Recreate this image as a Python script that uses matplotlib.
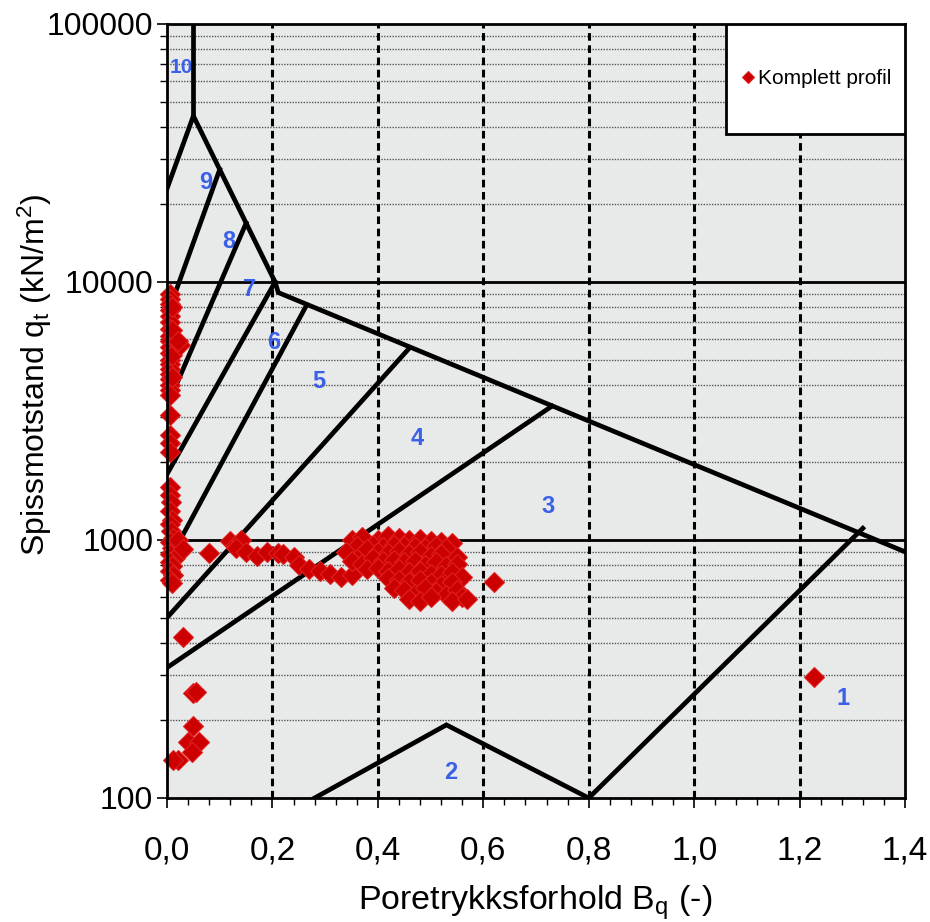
import matplotlib.pyplot as plt
from matplotlib.patches import Rectangle
from matplotlib.ticker import FixedLocator, NullFormatter

plt.rcParams['font.family'] = ['Liberation Sans', 'DejaVu Sans']
plt.rcParams['mathtext.default'] = 'regular'

# measured points (Bq, qt)
bq_vals = [
    # column near Bq = 0
    0.005, 0.005, 0.005, 0.005, 0.005, 0.005, 0.005, 0.005, 0.005, 0.005,
    0.005, 0.005, 0.005, 0.005, 0.005, 0.005, 0.005, 0.005, 0.005,
    0.01, 0.01, 0.01, 0.01, 0.025, 0.02,
    0.005, 0.005, 0.005, 0.005,
    0.005, 0.005, 0.008, 0.005, 0.01, 0.005, 0.008, 0.012, 0.005, 0.02,
    0.01, 0.025, 0.005, 0.015, 0.005, 0.01, 0.005, 0.012, 0.005, 0.01,
    0.02, 0.03,
    # low points
    0.03, 0.05, 0.055, 0.049, 0.04, 0.06, 0.047, 0.02, 0.012,
    # chain towards cluster
    0.08, 0.12, 0.13, 0.14, 0.13, 0.15, 0.17, 0.19, 0.21, 0.22, 0.24,
    0.25, 0.27, 0.29, 0.31, 0.33, 0.35,
    # main cluster
    0.35, 0.37, 0.40, 0.42, 0.44, 0.46, 0.48, 0.50, 0.52, 0.54,
    0.36, 0.39, 0.41, 0.43, 0.45, 0.47, 0.49, 0.51, 0.53,
    0.34, 0.37, 0.38, 0.40, 0.42, 0.44, 0.46, 0.48, 0.50, 0.52, 0.55,
    0.35, 0.37, 0.39, 0.41, 0.43, 0.45, 0.47, 0.49, 0.51, 0.53, 0.55,
    0.38, 0.40, 0.42, 0.44, 0.46, 0.48, 0.50, 0.52, 0.54, 0.56,
    0.42, 0.44, 0.46, 0.48, 0.50, 0.52, 0.54,
    0.43, 0.45, 0.47, 0.49, 0.51, 0.53, 0.55, 0.56,
    0.46, 0.48, 0.50, 0.54, 0.57,
    # outliers
    0.62, 1.228,
]
qt_vals = [
    9000, 8600, 8200, 7800, 7400, 7000, 6600, 6200, 5900, 5600,
    5300, 5000, 4800, 4600, 4400, 4200, 4000, 3800, 3650,
    8000, 6500, 5200, 4300, 5700, 5900,
    3050, 2550, 2380, 2200,
    1600, 1500, 1400, 1300, 1200, 1150, 1080, 1020, 980, 960,
    930, 900, 880, 850, 820, 790, 760, 730, 700, 680,
    1000, 920,
    420, 255, 258, 190, 165, 165, 151, 140, 140,
    890, 990, 960, 1000, 930, 900, 870, 900, 890, 880, 860,
    800, 770, 760, 740, 720, 730,
    1000, 1030, 1000, 1040, 1020, 1000, 1010, 990, 980, 970,
    950, 960, 940, 960, 950, 940, 930, 950, 930,
    900, 880, 920, 900, 890, 910, 880, 900, 870, 880, 860,
    830, 810, 850, 830, 840, 820, 830, 800, 820, 790, 810,
    770, 780, 760, 770, 750, 760, 740, 730, 750, 720,
    710, 700, 690, 700, 680, 670, 690,
    650, 640, 620, 650, 630, 610, 640, 600,
    590, 580, 600, 580, 590,
    690, 295,
]

# zone boundaries (Bq, qt)
zone10_bq = [0.05, 0.05]
zone10_qt = [100000, 44000]
upper_bq = [0.0, 0.05, 0.205, 0.211, 1.4]
upper_qt = [23000, 44000, 10000, 9100, 900]
b98_bq, b98_qt = [0.1, 0.0], [27300, 7400]
b87_bq, b87_qt = [0.15, 0.0], [16900, 3300]
b76_bq, b76_qt = [0.205, 0.0], [10000, 1800]
b65_bq, b65_qt = [0.265, 0.025], [8150, 1000]
b54_bq, b54_qt = [0.46, 0.0], [5550, 500]
b43_bq, b43_qt = [0.73, 0.0], [3300, 320]
zone2_bq = [0.28, 0.53, 0.8]
zone2_qt = [100, 192, 100]
zone1_bq = [0.8, 1.32]
zone1_qt = [100, 1110]

zone_labels = ['10', '9', '8', '7', '6', '5', '4', '3', '2', '1']
label_bq = [0.027, 0.074, 0.118, 0.156, 0.203, 0.288, 0.474, 0.723, 0.539, 1.283]
label_qt = [68000, 24400, 14300, 9310, 5810, 4130, 2480, 1343, 125, 244]

fig = plt.figure(figsize=(9.3, 9.22), dpi=100)
ax = fig.add_axes([0.1796, 0.1345, 0.7935, 0.8395])
ax.set_facecolor('#e8eaea')
ax.set_yscale('log')
ax.set_xlim(0, 1.4)
ax.set_ylim(100, 100000)

# grid
for q in [1000, 10000]:
    ax.axhline(q, color='black', lw=2, zorder=1)
for dec in [100, 1000, 10000]:
    for m in range(2, 10):
        ax.axhline(dec * m, color='#555555', lw=1, ls=(0, (1, 1)), zorder=1)
for xv in [0.2, 0.4, 0.6, 0.8, 1.0, 1.2]:
    ax.axvline(xv, color='black', lw=2.2, ls=(0, (2.5, 1.5)), zorder=1)

lw = 3.4
for bx, by in [(zone10_bq, zone10_qt), (upper_bq, upper_qt), (b98_bq, b98_qt),
               (b87_bq, b87_qt), (b76_bq, b76_qt), (b65_bq, b65_qt),
               (b54_bq, b54_qt), (b43_bq, b43_qt), (zone2_bq, zone2_qt),
               (zone1_bq, zone1_qt)]:
    ax.plot(bx, by, color='black', lw=lw, solid_joinstyle='miter', zorder=3)

for t, lx, ly in zip(zone_labels, label_bq, label_qt):
    ax.text(lx, ly, t, color='#3a5fe8', fontsize=17 if t != '10' else 15,
            fontweight='bold', ha='center', va='center', zorder=2)

ax.plot(bq_vals, qt_vals, ls='none', marker='D', ms=10, color='#cc0000',
        mec='#e02020', mew=0.8, zorder=4, clip_on=False, label='Komplett profil')

# legend box
ax.add_patch(Rectangle((0.757, 0.858), 0.243, 0.142, transform=ax.transAxes,
                       facecolor='white', edgecolor='black', lw=2, zorder=6))
leg = ax.legend(loc='center', bbox_to_anchor=(0.877, 0.929), frameon=False,
                fontsize=15, handletextpad=0.0, handlelength=1.0, markerscale=0.65)
leg.set_zorder(7)

ax.set_xticks([0, 0.2, 0.4, 0.6, 0.8, 1.0, 1.2, 1.4])
ax.set_xticklabels(['0,0', '0,2', '0,4', '0,6', '0,8', '1,0', '1,2', '1,4'],
                   fontsize=24)
ax.xaxis.set_minor_locator(FixedLocator([i * 0.04 for i in range(36)]))
ax.set_yticks([100, 1000, 10000, 100000])
ax.set_yticklabels(['100', '1000', '10000', '100000'], fontsize=23)
ax.yaxis.set_minor_formatter(NullFormatter())
ax.tick_params(axis='both', which='major', direction='out', length=7, width=1.2)
ax.tick_params(axis='both', which='minor', direction='out', length=5, width=1)
ax.tick_params(axis='x', pad=20)
ax.tick_params(axis='y', pad=3)

for s in ax.spines.values():
    s.set_color('black')
    s.set_linewidth(2)
    s.set_zorder(5)

ax.set_xlabel('Poretrykksforhold B$_q$ (-)', fontsize=24.5, va='center')
ax.xaxis.set_label_coords(0.499, -0.135)
ax.set_ylabel('Spissmotstand q$_t$ (kN/m$^2$)', fontsize=23, va='center')
ax.yaxis.set_label_coords(-0.179, 0.547)

fig.savefig('out.png', dpi=100)
